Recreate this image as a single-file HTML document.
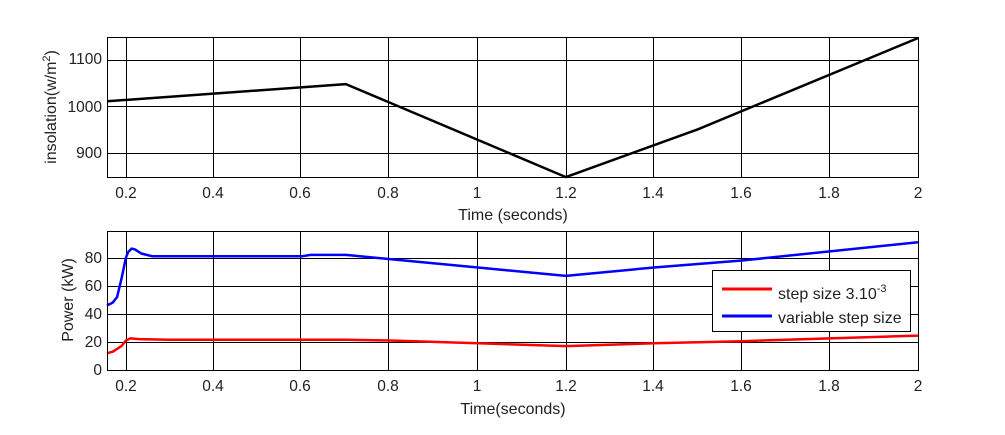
<!DOCTYPE html>
<html><head><meta charset="utf-8"><style>
body{margin:0;background:#fff}
svg text{font-family:"Liberation Sans",Arial,sans-serif;font-size:15.5px;fill:#222}
.big{font-size:16px}
</style></head><body>
<svg id="s" width="1005" height="430" viewBox="0 0 1005 430" xmlns="http://www.w3.org/2000/svg">
<rect width="1005" height="430" fill="#fff"/>
<g id="grid" stroke="#000" stroke-width="1" fill="none"></g>
<g id="lines" fill="none" stroke-linejoin="round"></g>
<rect x="107.5" y="37.5" width="811" height="140" fill="none" stroke="#000"/>
<rect x="107.5" y="231.5" width="811" height="139" fill="none" stroke="#000"/>
<g text-anchor="middle">
<text x="126" y="198">0.2</text><text x="213" y="198">0.4</text><text x="300" y="198">0.6</text><text x="388" y="198">0.8</text><text x="477" y="198">1</text><text x="566" y="198">1.2</text><text x="653" y="198">1.4</text><text x="741" y="198">1.6</text><text x="829" y="198">1.8</text><text x="918" y="198">2</text>
<text x="126" y="391">0.2</text><text x="213" y="391">0.4</text><text x="300" y="391">0.6</text><text x="388" y="391">0.8</text><text x="477" y="391">1</text><text x="566" y="391">1.2</text><text x="653" y="391">1.4</text><text x="741" y="391">1.6</text><text x="829" y="391">1.8</text><text x="918" y="391">2</text>
<text class="big" x="513" y="220">Time (seconds)</text>
<text class="big" x="513" y="414">Time(seconds)</text>
</g>
<g text-anchor="end">
<text x="102" y="64">1100</text><text x="102" y="112">1000</text><text x="102" y="158">900</text>
<text x="102" y="263">80</text><text x="102" y="291">60</text><text x="102" y="319">40</text><text x="102" y="347">20</text><text x="102" y="375">0</text>
</g>
<text class="big" transform="translate(56,107) rotate(-90)" text-anchor="middle">insolation(w/m<tspan dy="-6" font-size="11">2</tspan><tspan dy="6">)</tspan></text>
<text class="big" transform="translate(73,300) rotate(-90)" text-anchor="middle">Power (kW)</text>
<rect x="712.5" y="270.5" width="198" height="61" fill="#fff" stroke="#000"/>
<line x1="722" y1="289" x2="772" y2="289" stroke="#f00" stroke-width="3"/>
<line x1="722" y1="316" x2="772" y2="316" stroke="#00f" stroke-width="3"/>
<text class="big" x="778" y="299">step size 3.10<tspan dy="-7" font-size="11">-3</tspan></text>
<text class="big" x="778" y="323">variable step size</text>
</svg>
<script>
const X=t=>107+(t-0.157)*440;
const Y1=v=>106-(v-1000)*0.465;
const Y2=v=>370-v*1.404;
const ns="http://www.w3.org/2000/svg";
const g=document.getElementById("grid"),L=document.getElementById("lines");
function ln(p,a,b,c,d,col,w){const e=document.createElementNS(ns,"line");e.setAttribute("x1",a);e.setAttribute("y1",b);e.setAttribute("x2",c);e.setAttribute("y2",d);e.setAttribute("stroke",col||"#000");if(w)e.setAttribute("stroke-width",w);p.appendChild(e);}
[126,213,300,388,477,566,653,741,829].forEach(x=>{ln(g,x+.5,37,x+.5,177);ln(g,x+.5,231,x+.5,370);});
[1100,1000,900].forEach(v=>{const y=Math.round(Y1(v))+.5;ln(g,107,y,918,y);});
[80,60,40,20].forEach(v=>{const y=Math.round(Y2(v))+.5;ln(g,107,y,918,y);});
function pl(pts,fy,col,w){const e=document.createElementNS(ns,"polyline");e.setAttribute("points",pts.map(p=>X(p[0]).toFixed(1)+","+fy(p[1]).toFixed(1)).join(" "));e.setAttribute("stroke",col);e.setAttribute("stroke-width",w);L.appendChild(e);}
pl([[0.157,1010],[0.7,1047],[1.2,847],[1.5,950],[2,1146]],Y1,"#000",2.5);
pl([[0.157,46],[0.17,48],[0.18,52],[0.19,65],[0.2,80],[0.205,84],[0.213,86.5],[0.22,86],[0.235,83],[0.26,81],[0.6,81],[0.62,82],[0.7,82],[0.8,79],[1.0,73],[1.2,67],[1.4,73],[1.6,78],[2,91]],Y2,"#00f",2.5);
pl([[0.157,12],[0.17,13],[0.19,17],[0.2,21],[0.21,22.5],[0.23,22],[0.3,21.5],[0.7,21.5],[0.8,21],[1.0,19],[1.2,17],[1.4,19],[1.6,20.5],[1.8,22.5],[2,24.5]],Y2,"#f00",2.5);
</script>
</body></html>
